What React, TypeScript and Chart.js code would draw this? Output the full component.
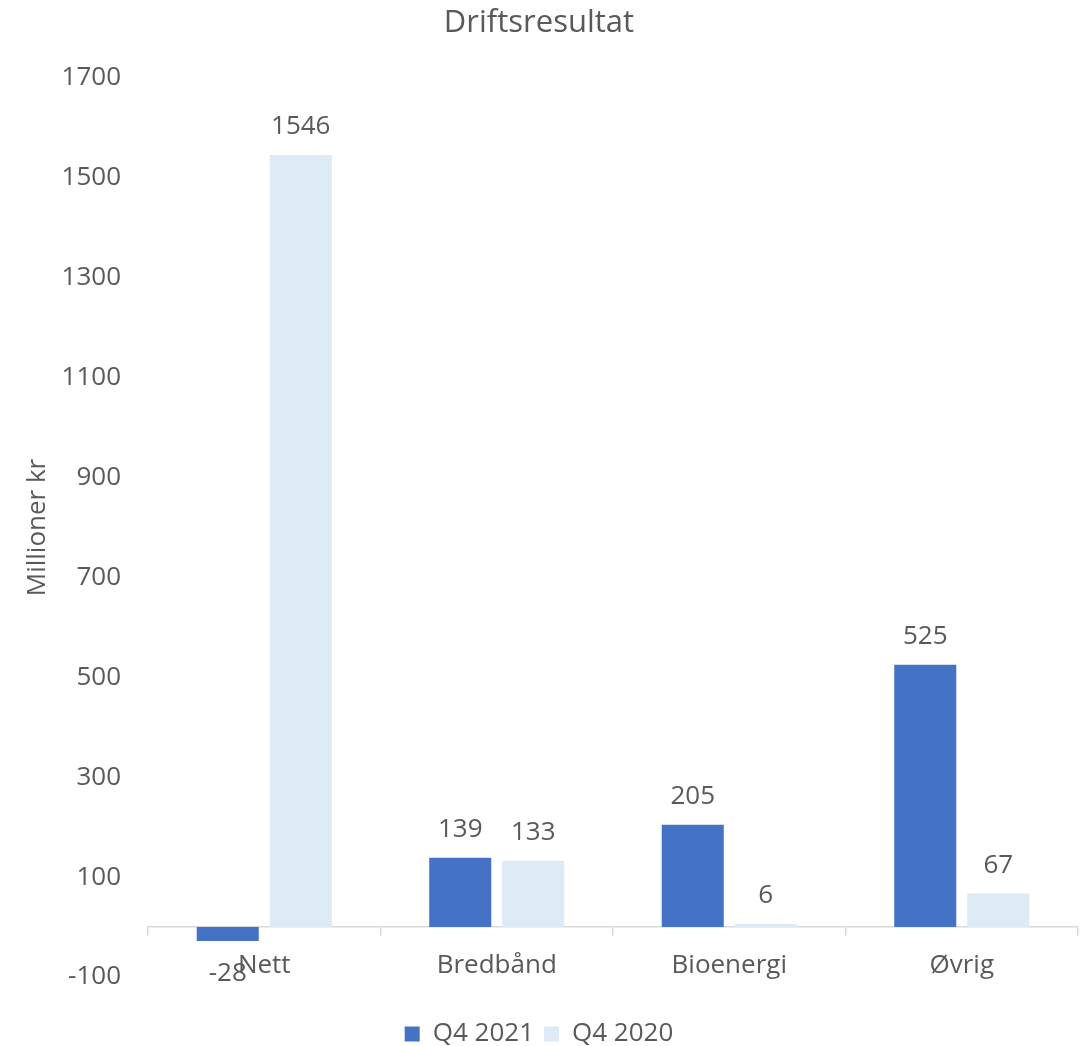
import React, { useEffect, useRef } from "react";
import { Chart, registerables } from "chart.js";

Chart.register(...registerables);

const categories = ["Nett", "Bredbånd", "Bioenergi", "Øvrig"];
const seriesNames = ["Q4 2021", "Q4 2020"];
const q4_2021 = [-28, 139, 205, 525];
const q4_2020 = [1546, 133, 6, 67];
const yMin = -100;
const yMax = 1700;
const yStep = 200;

const FONT = "'Open Sans', sans-serif";
const TEXT = "#595959";
const DARK = "#4472C4";
const LIGHT = "#DEEAF6";

const dataLabels = {
  id: "dataLabels",
  afterDatasetsDraw(chart: any) {
    const ctx = chart.ctx;
    ctx.save();
    ctx.font = `26px ${FONT}`;
    ctx.fillStyle = TEXT;
    ctx.textAlign = "center";
    ctx.textBaseline = "middle";
    chart.data.datasets.forEach((ds: any, i: number) => {
      const meta = chart.getDatasetMeta(i);
      meta.data.forEach((bar: any, j: number) => {
        const v = ds.data[j];
        const y = v >= 0 ? bar.y - 28 : bar.y + 33;
        ctx.fillText(String(v), bar.x, y);
      });
    });
    ctx.restore();
  },
};

export default function App() {
  const ref = useRef<HTMLCanvasElement | null>(null);

  useEffect(() => {
    if (!ref.current) return;
    const font = { family: FONT, size: 26 };
    const chart = new Chart(ref.current, {
      type: "bar",
      data: {
        labels: categories,
        datasets: [
          {
            label: seriesNames[0],
            data: q4_2021,
            backgroundColor: DARK,
            borderWidth: 0,
            categoryPercentage: 0.628,
            barPercentage: 0.85,
          },
          {
            label: seriesNames[1],
            data: q4_2020,
            backgroundColor: LIGHT,
            borderWidth: 0,
            categoryPercentage: 0.628,
            barPercentage: 0.85,
          },
        ],
      },
      options: {
        responsive: false,
        animation: false,
        devicePixelRatio: 1,
        layout: { padding: { left: 0, right: 13, top: 0, bottom: -11 } },
        plugins: {
          title: {
            display: true,
            text: "Driftsresultat",
            color: TEXT,
            font: { family: FONT, size: 31, weight: "normal" },
            padding: { top: 5, bottom: 35.8 },
          },
          legend: {
            display: true,
            position: "bottom",
            title: {
              display: true,
              text: "",
              font: { family: FONT, size: 10, lineHeight: 1 },
              padding: { top: 0, bottom: 24 },
            },
            labels: {
              color: TEXT,
              font,
              boxWidth: 15,
              boxHeight: 15,
              padding: 10,
            },
          },
          tooltip: { enabled: false },
        },
        scales: {
          x: {
            type: "category",
            position: { y: 0 } as any,
            offset: true,
            grid: {
              display: true,
              drawOnChartArea: false,
              drawTicks: true,
              tickLength: 8,
              offset: true,
              color: "#d9d9d9",
              lineWidth: 1.5,
            },
            border: { display: true, color: "#d9d9d9", width: 1.5 },
            ticks: { color: TEXT, font, padding: 15.4, maxRotation: 0 },
          },
          y: {
            min: yMin,
            max: yMax,
            afterFit(scale: any) {
              scale.width = 148;
            },
            ticks: {
              stepSize: yStep,
              color: TEXT,
              font,
              padding: 27,
              callback: (v: any) => String(v),
            },
            grid: { display: false, drawTicks: false },
            border: { display: false },
            title: {
              display: true,
              text: "Millioner kr",
              color: TEXT,
              font,
              padding: { top: 22.4, bottom: 0 },
            },
          },
        },
      },
      plugins: [dataLabels],
    });
    return () => chart.destroy();
  }, []);

  return (
    <div style={{ position: "absolute", left: 0, top: 0, width: 1091, height: 1046, background: "#fff" }}>
      <canvas ref={ref} width={1091} height={1046} style={{ display: "block" }} />
    </div>
  );
}
